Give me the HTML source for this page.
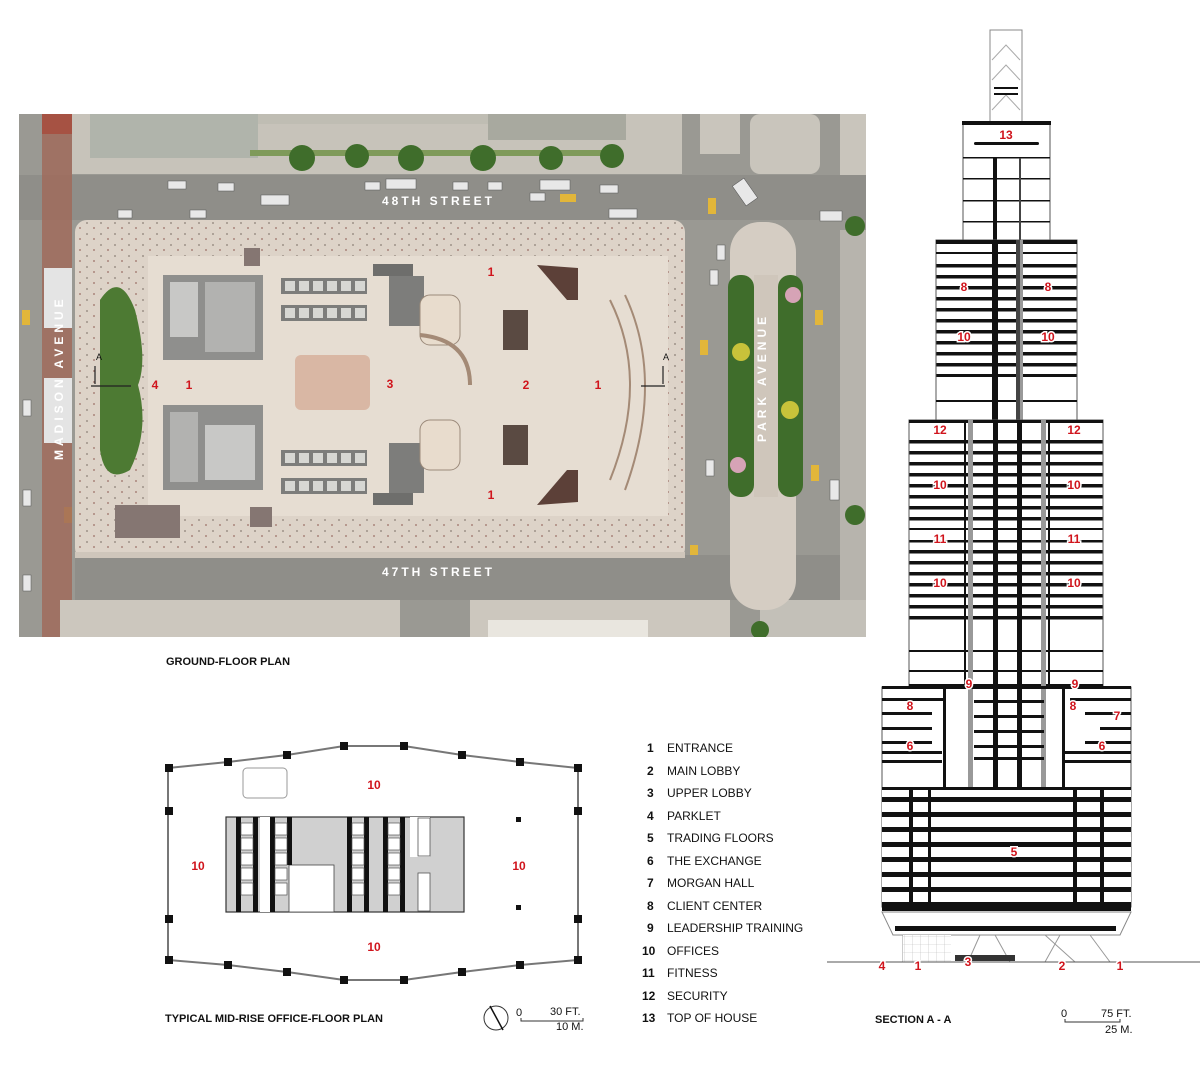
<!DOCTYPE html>
<html><head><meta charset="utf-8"><style>
html,body{margin:0;padding:0;background:#fff;}
body{width:1200px;height:1084px;position:relative;overflow:hidden;font-family:"Liberation Sans",sans-serif;}
svg{position:absolute;left:0;top:0;}
.lbl{font-family:"Liberation Sans",sans-serif;font-weight:bold;font-size:11px;fill:#111;}
.red{font-family:"Liberation Sans",sans-serif;font-weight:bold;fill:#d0141c;font-size:12px;text-anchor:middle;}
.halo{stroke:#fff;stroke-width:3px;paint-order:stroke;}
.leg{font-family:"Liberation Sans",sans-serif;font-size:12px;fill:#111;}
.st{font-family:"Liberation Sans",sans-serif;font-weight:bold;font-size:12px;fill:#fff;letter-spacing:3px;}
</style></head><body>
<svg width="1200" height="1084" viewBox="0 0 1200 1084" xmlns="http://www.w3.org/2000/svg">
<defs>
<pattern id="fl" x="0" y="0" width="10" height="11" patternUnits="userSpaceOnUse"><rect width="10" height="11" fill="#fff"/><rect y="0" width="10" height="3.5" fill="#111"/></pattern>
<pattern id="fl2" x="0" y="2" width="10" height="15" patternUnits="userSpaceOnUse"><rect width="10" height="15" fill="#fff"/><rect y="0" width="10" height="5" fill="#111"/></pattern>
<pattern id="grid" width="8" height="8" patternUnits="userSpaceOnUse"><rect width="8" height="8" fill="#fff"/><path d="M0 0H8M0 0V8" stroke="#bbb" stroke-width="0.6"/></pattern>
<pattern id="ppl" width="14" height="11" patternUnits="userSpaceOnUse"><rect width="14" height="11" fill="#ddd3c8"/><circle cx="3" cy="3" r="0.9" fill="#8b7f76"/><circle cx="10" cy="8" r="0.9" fill="#9a6e66"/></pattern>
<clipPath id="ac"><rect x="19" y="114" width="847" height="523"/></clipPath>
</defs>

<!-- ===== AERIAL GROUND FLOOR ===== -->
<g clip-path="url(#ac)">
<rect x="19" y="114" width="847" height="523" fill="#9a9993"/>
<rect x="72" y="114" width="610" height="60" fill="#c7c3ba"/>
<rect x="90" y="114" width="168" height="44" fill="#b0b4ab"/>
<rect x="258" y="114" width="230" height="10" fill="#bfbdb3"/>
<rect x="488" y="114" width="138" height="26" fill="#a8a99f"/>
<rect x="250" y="150" width="370" height="6" fill="#7f9a5a"/>
<g fill="#3f6d2b"><circle cx="302" cy="158" r="13"/><circle cx="357" cy="156" r="12"/><circle cx="411" cy="158" r="13"/><circle cx="483" cy="158" r="13"/><circle cx="551" cy="158" r="12"/><circle cx="612" cy="156" r="12"/></g>
<rect x="700" y="114" width="40" height="40" fill="#c9c5bc"/>
<rect x="750" y="114" width="70" height="60" rx="10" fill="#c9c5bc"/>
<rect x="840" y="114" width="26" height="70" fill="#c9c5bc"/>
<rect x="19" y="175" width="847" height="45" fill="#8f8e89"/>
<text x="382" y="205" class="st">48TH STREET</text>
<g fill="#e8e8e8" stroke="#555" stroke-width="0.5">
<rect x="168" y="181" width="18" height="8"/><rect x="218" y="183" width="16" height="8"/><rect x="261" y="195" width="28" height="10"/><rect x="365" y="182" width="15" height="8"/><rect x="386" y="179" width="30" height="10"/><rect x="453" y="182" width="15" height="8"/><rect x="488" y="182" width="14" height="8"/><rect x="540" y="180" width="30" height="10"/><rect x="118" y="210" width="14" height="8"/><rect x="190" y="210" width="16" height="8"/><rect x="609" y="209" width="28" height="9"/><rect x="600" y="185" width="18" height="8"/><rect x="530" y="193" width="15" height="8"/><rect x="820" y="211" width="22" height="10"/><rect x="738" y="180" width="14" height="24" transform="rotate(-35 745 192)"/>
<rect x="717" y="245" width="8" height="15"/><rect x="710" y="270" width="8" height="15"/><rect x="830" y="480" width="9" height="20"/><rect x="706" y="460" width="8" height="16"/><rect x="130" y="567" width="14" height="8"/><rect x="200" y="567" width="22" height="10"/><rect x="270" y="563" width="52" height="12"/><rect x="146" y="582" width="30" height="9"/><rect x="598" y="552" width="30" height="12"/><rect x="523" y="551" width="14" height="8"/><rect x="445" y="552" width="16" height="8"/><rect x="108" y="582" width="15" height="8"/><rect x="23" y="575" width="8" height="16"/><rect x="23" y="400" width="8" height="16"/><rect x="23" y="490" width="8" height="16"/>
</g>
<g fill="#e2b63a"><rect x="560" y="194" width="16" height="8"/><rect x="708" y="198" width="8" height="16"/><rect x="700" y="340" width="8" height="15"/><rect x="815" y="310" width="8" height="15"/><rect x="22" y="310" width="8" height="15"/><rect x="811" y="465" width="8" height="16"/><rect x="360" y="567" width="16" height="8"/><rect x="514" y="567" width="16" height="8"/><rect x="514" y="580" width="16" height="8"/><rect x="690" y="545" width="8" height="15"/><rect x="64" y="507" width="8" height="16"/></g>
<rect x="42" y="114" width="30" height="523" fill="#a06b5c" opacity="0.85"/>
<rect x="42" y="114" width="30" height="20" fill="#a65243"/>
<rect x="44" y="268" width="28" height="60" fill="#e4e4e4"/>
<rect x="44" y="378" width="28" height="65" fill="#e4e4e4"/>
<text transform="translate(63 460) rotate(-90)" class="st" style="letter-spacing:4px">MADISON AVENUE</text>
<rect x="75" y="220" width="610" height="340" rx="12" fill="url(#ppl)"/>
<rect x="470" y="600" width="260" height="37" fill="#ccc7be"/>
<rect x="60" y="600" width="340" height="37" fill="#ccc7be"/>
<rect x="760" y="600" width="106" height="37" fill="#c3c0b8"/>
<rect x="488" y="620" width="160" height="17" fill="#e9e6df"/>
<rect x="75" y="555" width="791" height="45" fill="#8f8e89"/>
<rect x="75" y="552" width="610" height="6" fill="#cfc6bb"/>
<text x="382" y="576" class="st">47TH STREET</text>
<rect x="730" y="222" width="66" height="388" rx="30" fill="#d5cdc3"/>
<rect x="728" y="275" width="26" height="222" rx="12" fill="#3f6d2b"/>
<rect x="778" y="275" width="25" height="222" rx="12" fill="#3f6d2b"/>
<circle cx="741" cy="352" r="9" fill="#c8c23a"/><circle cx="790" cy="410" r="9" fill="#c8c23a"/><circle cx="793" cy="295" r="8" fill="#d6a3b6"/><circle cx="738" cy="465" r="8" fill="#d6a3b6"/>
<rect x="754" y="275" width="24" height="222" fill="#cfc6bb"/>
<text transform="translate(766 442) rotate(-90)" class="st" style="letter-spacing:4px">PARK AVENUE</text>
<rect x="840" y="230" width="26" height="370" fill="#b7b4ad"/>
<circle cx="855" cy="226" r="10" fill="#3f6d2b"/><circle cx="855" cy="515" r="10" fill="#3f6d2b"/><circle cx="760" cy="630" r="9" fill="#3f6d2b"/>
<path d="M100 300 Q120 270 135 310 Q148 360 138 385 Q150 430 130 470 Q105 485 100 450 Z" fill="#4d7a33"/>
<rect x="148" y="256" width="520" height="260" fill="#e6ddd2"/>
<rect x="163" y="275" width="100" height="85" fill="#8f8f8d"/>
<rect x="170" y="282" width="28" height="55" fill="#c8c8c6"/><rect x="205" y="282" width="50" height="70" fill="#b2b2b0"/>
<rect x="163" y="405" width="100" height="85" fill="#8f8f8d"/>
<rect x="170" y="412" width="28" height="70" fill="#b2b2b0"/><rect x="205" y="425" width="50" height="55" fill="#c8c8c6"/>
<g fill="#7d7d7b"><rect x="281" y="278" width="86" height="16"/><rect x="281" y="305" width="86" height="16"/><rect x="281" y="450" width="86" height="16"/><rect x="281" y="478" width="86" height="16"/><rect x="389" y="276" width="35" height="50"/><rect x="389" y="443" width="35" height="50"/></g>
<g fill="#d7d7d3"><rect x="285" y="281" width="10" height="10"/><rect x="299" y="281" width="10" height="10"/><rect x="313" y="281" width="10" height="10"/><rect x="327" y="281" width="10" height="10"/><rect x="341" y="281" width="10" height="10"/><rect x="355" y="281" width="10" height="10"/><rect x="285" y="308" width="10" height="10"/><rect x="299" y="308" width="10" height="10"/><rect x="313" y="308" width="10" height="10"/><rect x="327" y="308" width="10" height="10"/><rect x="341" y="308" width="10" height="10"/><rect x="355" y="308" width="10" height="10"/><rect x="285" y="453" width="10" height="10"/><rect x="299" y="453" width="10" height="10"/><rect x="313" y="453" width="10" height="10"/><rect x="327" y="453" width="10" height="10"/><rect x="341" y="453" width="10" height="10"/><rect x="355" y="453" width="10" height="10"/><rect x="285" y="481" width="10" height="10"/><rect x="299" y="481" width="10" height="10"/><rect x="313" y="481" width="10" height="10"/><rect x="327" y="481" width="10" height="10"/><rect x="341" y="481" width="10" height="10"/><rect x="355" y="481" width="10" height="10"/></g>
<rect x="295" y="355" width="75" height="55" rx="6" fill="#d9b7a4"/>
<rect x="420" y="295" width="40" height="50" rx="10" fill="#e8dccd" stroke="#9b8a7a"/>
<rect x="420" y="420" width="40" height="50" rx="10" fill="#e8dccd" stroke="#9b8a7a"/>
<rect x="503" y="310" width="25" height="40" fill="#5a4a42"/><rect x="503" y="425" width="25" height="40" fill="#5a4a42"/>
<path d="M537 265 L578 268 L578 300 L567 300 Z" fill="#5c4038"/><path d="M537 505 L578 502 L578 470 L567 470 Z" fill="#5c4038"/>
<rect x="373" y="264" width="40" height="12" fill="#6e6e6c"/><rect x="373" y="493" width="40" height="12" fill="#6e6e6c"/>
<path d="M610 300 Q650 380 610 480" stroke="#a48a76" stroke-width="2" fill="none"/>
<path d="M625 295 Q665 380 625 490" stroke="#a48a76" stroke-width="2" fill="none"/>
<path d="M420 335 Q470 340 470 385" stroke="#a48a76" stroke-width="4" fill="none"/>
<rect x="115" y="505" width="65" height="33" fill="#857672"/>
<rect x="250" y="507" width="22" height="20" fill="#857672"/>
<rect x="244" y="248" width="16" height="18" fill="#857672"/>
<path d="M91 386 H131 M95 384 V366 M665 386 H641 M663 384 V366" stroke="#222" stroke-width="1.2" fill="none"/>
<text x="96" y="360" font-size="9" font-family="Liberation Sans" fill="#111">A</text><text x="663" y="360" font-size="9" font-family="Liberation Sans" fill="#111">A</text>
<text x="155" y="389" class="red">4</text><text x="189" y="389" class="red">1</text><text x="390" y="388" class="red">3</text><text x="526" y="389" class="red">2</text><text x="598" y="389" class="red">1</text><text x="491" y="276" class="red">1</text><text x="491" y="499" class="red">1</text>
</g>

<text x="166" y="665" class="lbl">GROUND-FLOOR PLAN</text>

<!-- ===== OFFICE FLOOR PLAN ===== -->
<polygon points="168,768 228,762 287,755 344,746 404,746 462,755 520,762 578,768 578,960 520,965 462,972 404,980 344,980 287,972 228,965 168,960" fill="#fff" stroke="#777" stroke-width="2"/>
<g fill="#111"><rect x="165" y="764" width="8" height="8"/><rect x="224" y="758" width="8" height="8"/><rect x="283" y="751" width="8" height="8"/><rect x="340" y="742" width="8" height="8"/><rect x="400" y="742" width="8" height="8"/><rect x="458" y="751" width="8" height="8"/><rect x="516" y="758" width="8" height="8"/><rect x="574" y="764" width="8" height="8"/>
<rect x="165" y="956" width="8" height="8"/><rect x="224" y="961" width="8" height="8"/><rect x="283" y="968" width="8" height="8"/><rect x="340" y="976" width="8" height="8"/><rect x="400" y="976" width="8" height="8"/><rect x="458" y="968" width="8" height="8"/><rect x="516" y="961" width="8" height="8"/><rect x="574" y="956" width="8" height="8"/>
<rect x="165" y="807" width="8" height="8"/><rect x="165" y="915" width="8" height="8"/><rect x="574" y="807" width="8" height="8"/><rect x="574" y="915" width="8" height="8"/><rect x="516" y="817" width="5" height="5"/><rect x="516" y="905" width="5" height="5"/></g>
<rect x="243" y="768" width="44" height="30" rx="4" fill="#fff" stroke="#999"/>
<rect x="226" y="817" width="238" height="95" fill="#d0d0d0" stroke="#333" stroke-width="1.2"/>
<rect x="260" y="817" width="10" height="95" fill="#fff"/>
<rect x="410" y="817" width="20" height="40" fill="#fff"/><rect x="418" y="818" width="12" height="38" fill="#fff" stroke="#555" stroke-width="0.8"/>
<rect x="418" y="873" width="12" height="38" fill="#fff" stroke="#555" stroke-width="0.8"/>
<rect x="289" y="865" width="45" height="47" fill="#fff" stroke="#444" stroke-width="0.8"/>
<g fill="#111"><rect x="236" y="817" width="5" height="95"/><rect x="253" y="817" width="5" height="95"/><rect x="270" y="817" width="5" height="95"/><rect x="287" y="817" width="5" height="48"/><rect x="347" y="817" width="5" height="95"/><rect x="364" y="817" width="5" height="95"/><rect x="383" y="817" width="5" height="95"/><rect x="400" y="817" width="5" height="95"/></g>
<g fill="#fff" stroke="#555" stroke-width="0.7"><rect x="241" y="823" width="12" height="12"/><rect x="241" y="838" width="12" height="12"/><rect x="241" y="853" width="12" height="12"/><rect x="241" y="868" width="12" height="12"/><rect x="241" y="883" width="12" height="12"/><rect x="275" y="823" width="12" height="12"/><rect x="275" y="838" width="12" height="12"/><rect x="275" y="853" width="12" height="12"/><rect x="275" y="868" width="12" height="12"/><rect x="275" y="883" width="12" height="12"/><rect x="352" y="823" width="12" height="12"/><rect x="352" y="838" width="12" height="12"/><rect x="352" y="853" width="12" height="12"/><rect x="352" y="868" width="12" height="12"/><rect x="352" y="883" width="12" height="12"/><rect x="388" y="823" width="12" height="12"/><rect x="388" y="838" width="12" height="12"/><rect x="388" y="853" width="12" height="12"/><rect x="388" y="868" width="12" height="12"/><rect x="388" y="883" width="12" height="12"/></g>
<text x="374" y="789" class="red">10</text><text x="198" y="870" class="red">10</text><text x="519" y="870" class="red">10</text><text x="374" y="951" class="red">10</text>
<text x="165" y="1022" class="lbl">TYPICAL MID-RISE OFFICE-FLOOR PLAN</text>
<circle cx="496" cy="1018" r="12" fill="none" stroke="#333"/><path d="M490 1006 L503 1030" stroke="#111" stroke-width="1.5"/>
<text x="516" y="1016" font-size="11" font-family="Liberation Sans" fill="#111">0</text><text x="550" y="1015" font-size="11" font-family="Liberation Sans" fill="#111">30 FT.</text>
<path d="M521 1018 V1021 H583 V1018" stroke="#333" fill="none"/>
<text x="556" y="1030" font-size="11" font-family="Liberation Sans" fill="#111">10 M.</text>

<!-- ===== LEGEND ===== -->
<g class="leg">
<text x="647" y="752" font-weight="bold">1</text><text x="667" y="752">ENTRANCE</text>
<text x="647" y="775" font-weight="bold">2</text><text x="667" y="775">MAIN LOBBY</text>
<text x="647" y="797" font-weight="bold">3</text><text x="667" y="797">UPPER LOBBY</text>
<text x="647" y="820" font-weight="bold">4</text><text x="667" y="820">PARKLET</text>
<text x="647" y="842" font-weight="bold">5</text><text x="667" y="842">TRADING FLOORS</text>
<text x="647" y="865" font-weight="bold">6</text><text x="667" y="865">THE EXCHANGE</text>
<text x="647" y="887" font-weight="bold">7</text><text x="667" y="887">MORGAN HALL</text>
<text x="647" y="910" font-weight="bold">8</text><text x="667" y="910">CLIENT CENTER</text>
<text x="647" y="932" font-weight="bold">9</text><text x="667" y="932">LEADERSHIP TRAINING</text>
<text x="642" y="955" font-weight="bold">10</text><text x="667" y="955">OFFICES</text>
<text x="642" y="977" font-weight="bold">11</text><text x="667" y="977">FITNESS</text>
<text x="642" y="1000" font-weight="bold">12</text><text x="667" y="1000">SECURITY</text>
<text x="642" y="1022" font-weight="bold">13</text><text x="667" y="1022">TOP OF HOUSE</text>
</g>

<!-- ===== SECTION ===== -->
<rect x="990" y="30" width="32" height="92" fill="#fff" stroke="#888"/>
<path d="M992 60 L1006 45 L1020 60 M992 80 L1006 65 L1020 80 M992 110 L1006 95 L1020 110" stroke="#aaa" fill="none"/>
<rect x="994" y="87" width="24" height="2" fill="#111"/><rect x="994" y="93" width="24" height="2" fill="#111"/>
<rect x="963" y="122" width="87" height="120" fill="#fff" stroke="#555"/>
<rect x="962" y="121" width="89" height="4" fill="#111"/>
<rect x="974" y="142" width="65" height="3" rx="1.5" fill="#111"/>
<g fill="#111"><rect x="963" y="157" width="87" height="1.5"/><rect x="963" y="178" width="87" height="1.5"/><rect x="963" y="200" width="87" height="1.5"/><rect x="963" y="221" width="87" height="1.5"/></g>
<rect x="993" y="158" width="4" height="270" fill="#111"/>
<rect x="1019" y="158" width="2" height="270" fill="#444"/>
<rect x="936" y="262" width="141" height="115" fill="url(#fl)"/>
<rect x="936" y="240" width="141" height="180" fill="none" stroke="#555"/>
<rect x="936" y="240" width="141" height="4" fill="#111"/>
<rect x="936" y="252" width="141" height="2" fill="#111"/>
<rect x="936" y="400" width="141" height="2" fill="#111"/>
<rect x="992" y="240" width="6" height="180" fill="#111"/>
<rect x="1016" y="240" width="4" height="180" fill="#444"/>
<rect x="1020" y="240" width="3" height="180" fill="#999"/>
<rect x="909" y="434" width="194" height="96" fill="url(#fl)"/>
<rect x="909" y="540" width="194" height="80" fill="url(#fl)"/>
<rect x="909" y="420" width="194" height="267" fill="none" stroke="#555"/>
<rect x="909" y="420" width="194" height="3" fill="#111"/>
<rect x="909" y="650" width="194" height="2" fill="#111"/>
<rect x="909" y="670" width="194" height="2" fill="#111"/>
<rect x="909" y="684" width="194" height="4" fill="#111"/>
<rect x="964" y="420" width="2" height="267" fill="#111"/><rect x="1048" y="420" width="2" height="267" fill="#111"/>
<rect x="968" y="420" width="5" height="370" fill="#999"/>
<rect x="1041" y="420" width="5" height="370" fill="#999"/>
<rect x="993" y="420" width="5" height="370" fill="#111"/>
<rect x="1017" y="420" width="5" height="370" fill="#111"/>
<rect x="882" y="687" width="249" height="220" fill="none" stroke="#555"/>
<rect x="882" y="686" width="249" height="3" fill="#111"/>
<g fill="#111"><rect x="882" y="698" width="62" height="3"/><rect x="1070" y="698" width="61" height="3"/><rect x="882" y="712" width="50" height="3"/><rect x="1085" y="712" width="46" height="3"/><rect x="882" y="727" width="50" height="3"/><rect x="1100" y="727" width="31" height="3"/><rect x="882" y="741" width="50" height="3"/><rect x="1085" y="741" width="46" height="3"/><rect x="882" y="751" width="60" height="3"/><rect x="1065" y="751" width="66" height="3"/><rect x="882" y="760" width="60" height="3"/><rect x="1065" y="760" width="66" height="3"/>
<rect x="974" y="700" width="70" height="3"/><rect x="974" y="715" width="70" height="3"/><rect x="974" y="730" width="70" height="3"/><rect x="974" y="745" width="70" height="3"/><rect x="974" y="757" width="70" height="3"/>
<rect x="943" y="687" width="3" height="100"/><rect x="1062" y="687" width="3" height="100"/></g>
<rect x="882" y="787" width="249" height="3" fill="#111"/>
<rect x="882" y="790" width="249" height="118" fill="url(#fl2)"/>
<g fill="#111"><rect x="909" y="790" width="4" height="118"/><rect x="1073" y="790" width="4" height="118"/><rect x="1100" y="790" width="4" height="118"/><rect x="928" y="790" width="3" height="118"/></g>
<rect x="882" y="907" width="249" height="4" fill="#111"/>
<polygon points="882,912 1131,912 1120,935 893,935" fill="#fff" stroke="#888"/>
<rect x="895" y="926" width="221" height="5" fill="#111"/>
<path d="M903 935 V962 M1045 935 L1075 962 M1060 935 L1045 962 M980 935 L968 962 M995 935 L1010 962 M1090 935 L1110 962" stroke="#999" fill="none"/>
<rect x="903" y="935" width="48" height="27" fill="url(#grid)"/>
<rect x="955" y="955" width="60" height="6" fill="#333"/>
<path d="M827 962 H1200" stroke="#555" stroke-width="1"/>
<g class="red halo">
<text x="1006" y="139">13</text>
<text x="964" y="291">8</text><text x="1048" y="291">8</text>
<text x="964" y="341">10</text><text x="1048" y="341">10</text>
<text x="940" y="434">12</text><text x="1074" y="434">12</text>
<text x="940" y="489">10</text><text x="1074" y="489">10</text>
<text x="940" y="543">11</text><text x="1074" y="543">11</text>
<text x="940" y="587">10</text><text x="1074" y="587">10</text>
<text x="969" y="688">9</text><text x="1075" y="688">9</text>
<text x="910" y="710">8</text><text x="1073" y="710">8</text><text x="1117" y="720">7</text>
<text x="910" y="750">6</text><text x="1102" y="750">6</text>
<text x="1014" y="856">5</text>
<text x="882" y="970">4</text><text x="918" y="970">1</text><text x="968" y="966">3</text><text x="1062" y="970">2</text><text x="1120" y="970">1</text>
</g>
<text x="875" y="1023" class="lbl">SECTION A - A</text>
<text x="1061" y="1017" font-size="11" font-family="Liberation Sans" fill="#111">0</text><text x="1101" y="1017" font-size="11" font-family="Liberation Sans" fill="#111">75 FT.</text>
<path d="M1065 1019 V1022 H1120 V1019" stroke="#333" fill="none"/>
<text x="1105" y="1033" font-size="11" font-family="Liberation Sans" fill="#111">25 M.</text>
</svg>
</body></html>
